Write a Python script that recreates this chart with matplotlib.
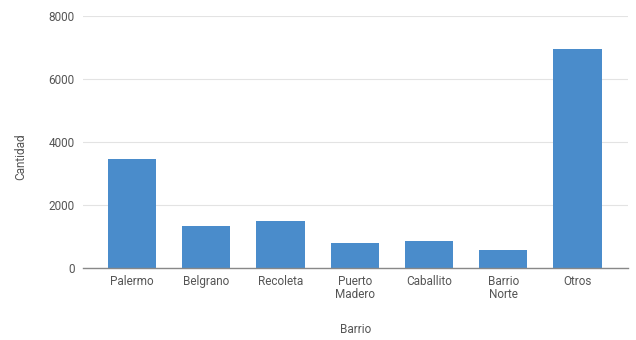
import matplotlib
matplotlib.use("Agg")
import matplotlib.pyplot as plt

barrios = ["Palermo", "Belgrano", "Recoleta", "Puerto\nMadero", "Caballito", "Barrio\nNorte", "Otros"]
cantidad = [3460, 1335, 1485, 785, 850, 555, 6950]
y_ticks = [0, 2000, 4000, 6000, 8000]

plt.rcParams['font.family'] = ['Roboto', 'DejaVu Sans']
text_color = '#555555'

fig = plt.figure(figsize=(6.36, 3.4), dpi=100)
ax = fig.add_axes([0.1305, 0.212, 0.857, 0.741])

x = range(len(barrios))
ax.bar(x, cantidad, width=0.65, color='#4a8ccb', zorder=3)

ax.set_xlim(-0.66, 6.68)
ax.set_ylim(0, 8000)
ax.set_yticks(y_ticks)
ax.set_xticks(list(x))
ax.set_xticklabels(barrios, fontsize=8.5, color=text_color, linespacing=1.0)
ax.tick_params(axis='y', labelsize=8.5, labelcolor=text_color, length=0, pad=6)
ax.tick_params(axis='x', length=0, pad=5)

ax.grid(axis='y', color='#e3e3e3', linewidth=0.8, zorder=0)
for side in ['top', 'right', 'left']:
    ax.spines[side].set_visible(False)
ax.spines['bottom'].set_color('#888888')
ax.spines['bottom'].set_linewidth(1)
ax.spines['bottom'].set_zorder(4)

ax.set_ylabel("Cantidad", fontsize=8.5, color=text_color)
ax.yaxis.set_label_coords(-0.103, 0.44)
ax.set_xlabel("Barrio", fontsize=8.5, color=text_color, labelpad=16)

fig.savefig("out.png", dpi=100)
